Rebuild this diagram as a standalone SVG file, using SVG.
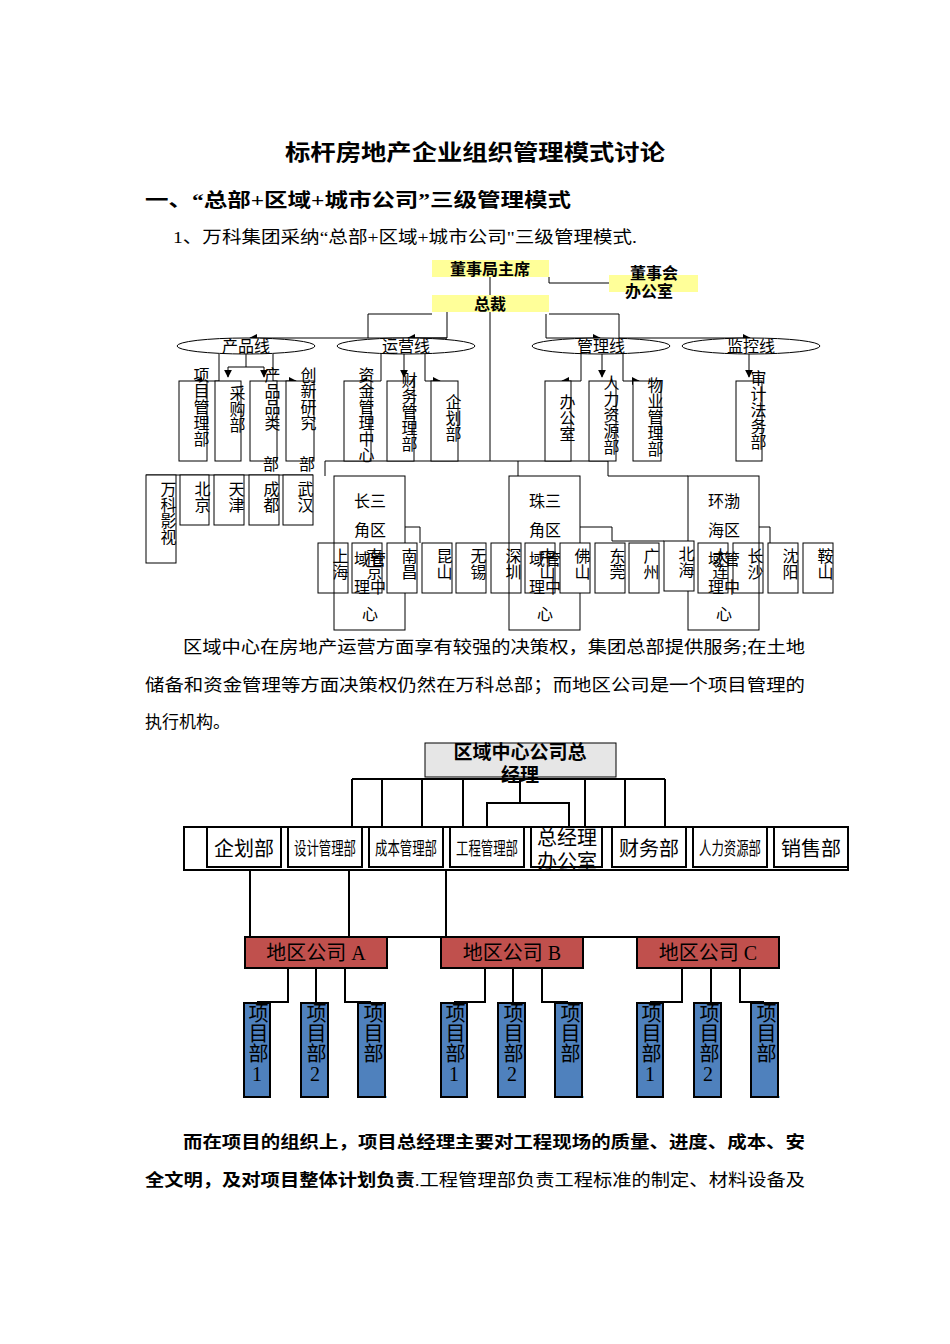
<svg xmlns="http://www.w3.org/2000/svg" width="950" height="1344" viewBox="0 0 950 1344">
<defs>
<marker id="ar" viewBox="0 0 10 10" refX="9" refY="5" markerWidth="8" markerHeight="8" orient="auto"><path d="M0,0L10,5L0,10z" fill="#000"/></marker>
</defs>
<style>
text{font-family:"Liberation Serif","Noto Sans CJK SC",serif;fill:#000}
.t{font-size:22px;font-weight:bold}
.h{font-size:19px;font-weight:bold}
.p{font-size:17px}
.c{font-size:16px;text-anchor:middle}
.v{font-size:16px;writing-mode:tb;text-orientation:upright}
.y{fill:#ffff99}
.b{fill:#fff;stroke:#000;stroke-width:1}
.l{fill:none;stroke:#000;stroke-width:1}
.l2{fill:none;stroke:#000;stroke-width:2}
.el{fill:#fff;stroke:#000;stroke-width:1}
.yb{font-size:16px;font-weight:bold;text-anchor:middle;font-family:"Liberation Sans","Noto Sans CJK SC",sans-serif}
.g{fill:#e6e6e6;stroke:#000;stroke-width:1}
.d{fill:#fff;stroke:#000;stroke-width:2}
.r{fill:#c0504d;stroke:#000;stroke-width:2}
.bl{fill:#4f81bd;stroke:#000;stroke-width:2}
.m{font-size:20px;text-anchor:middle}
.m2{font-size:18px;text-anchor:middle}
.pv{font-size:20px;writing-mode:tb;text-orientation:upright}
</style>
<rect width="950" height="1344" fill="#fff"/>
<text class="t" x="285" y="160" textLength="380" lengthAdjust="spacingAndGlyphs">标杆房地产企业组织管理模式讨论</text>
<text class="h" x="145" y="207" textLength="426" lengthAdjust="spacingAndGlyphs">一、“总部+区域+城市公司”三级管理模式</text>
<text class="p" x="173" y="243" textLength="464" lengthAdjust="spacingAndGlyphs">1、万科集团采纳“总部+区域+城市公司"三级管理模式.</text>

<g id="connectors1">
<polyline class="l" points="549,277 549,283 609,283"/>
<line class="l" x1="490" y1="277" x2="490" y2="461"/>
<polyline class="l" points="432,314 368,314 368,338"/>
<polyline class="l" points="447,312 447,338 250,338" marker-end="url(#ar)"/>
<line class="l" x1="447" y1="338" x2="408" y2="338" marker-end="url(#ar)"/>
<polyline class="l" points="549,314 619,314 619,338 750,338" marker-end="url(#ar)"/>
<polyline class="l" points="546,314 546,338 600,338" marker-end="url(#ar)"/>
<polyline class="l" points="219,354 219,381 195,381" marker-end="url(#ar)"/>
<polyline class="l" points="246,354 246,367 228,367 228,377" marker-end="url(#ar)"/>
<polyline class="l" points="246,367 264,367 264,377" marker-end="url(#ar)"/>
<polyline class="l" points="273,354 273,381 296,381" marker-end="url(#ar)"/>
<polyline class="l" points="381,354 381,381 360,381" marker-end="url(#ar)"/>
<polyline class="l" points="404,354 404,377" marker-end="url(#ar)"/>
<polyline class="l" points="425,354 425,381 440,381" marker-end="url(#ar)"/>
<polyline class="l" points="581,354 581,381 562,381" marker-end="url(#ar)"/>
<polyline class="l" points="602,354 602,377" marker-end="url(#ar)"/>
<polyline class="l" points="623,354 623,381 639,381" marker-end="url(#ar)"/>
<polyline class="l" points="749,354 749,377" marker-end="url(#ar)"/>
<polyline class="l" points="325,476 325,461 608,461 608,476 688,476"/>
<line class="l" x1="518" y1="461" x2="518" y2="476"/>
<line class="l" x1="146" y1="475" x2="313" y2="475"/>
<polyline class="l" points="352,543 352,527 420,527 420,543"/>
<polyline class="l" points="386,527 386,543"/>
<polyline class="l" points="525,543 525,527 612,527 612,541 664,541"/>
<polyline class="l" points="577,527 577,543"/>
<polyline class="l" points="698,543 698,527 770,527 770,543"/>
<polyline class="l" points="753,527 753,543"/>
</g>

<g id="n-chair"><rect class="y" x="432" y="260" width="117" height="17"/><text class="yb" x="490" y="275">董事局主席</text></g>
<g id="n-boardoffice"><rect class="y" x="609" y="275" width="89" height="17"/><text class="yb" x="654" y="279">董事会</text><text class="yb" x="649" y="297">办公室</text></g>
<g id="n-ceo"><rect class="y" x="432" y="295" width="117" height="17"/><text class="yb" x="490" y="310">总裁</text></g>

<g id="n-l1"><ellipse class="el" cx="246" cy="346" rx="69" ry="8"/><text class="c" x="246" y="352">产品线</text></g>
<g id="n-l2"><ellipse class="el" cx="406" cy="346" rx="69" ry="8"/><text class="c" x="406" y="352">运营线</text></g>
<g id="n-l3"><ellipse class="el" cx="601" cy="346" rx="69" ry="8"/><text class="c" x="601" y="352">管理线</text></g>
<g id="n-l4"><ellipse class="el" cx="751" cy="346" rx="69" ry="8"/><text class="c" x="751" y="352">监控线</text></g>

<g id="n-d1"><rect class="b" x="179" y="381" width="28" height="80"/><text class="v" x="200" y="367">项目管理部</text></g>
<g id="n-d2"><rect class="b" x="215" y="381" width="26" height="80"/><text class="v" x="236" y="385">采购部</text></g>
<g id="n-d3"><rect class="b" x="250" y="381" width="27" height="80"/><text class="v" x="271" y="367">产品品类</text><text class="c" x="271" y="470">部</text></g>
<g id="n-d4"><rect class="b" x="286" y="381" width="28" height="80"/><text class="v" x="307" y="367">创新研究</text><text class="c" x="307" y="470">部</text></g>
<g id="n-d5"><rect class="b" x="344" y="381" width="27" height="80"/><text class="v" x="365" y="367">资金管理中心</text></g>
<g id="n-d6"><rect class="b" x="387" y="381" width="27" height="80"/><text class="v" x="408" y="372">财务管理部</text></g>
<g id="n-d7"><rect class="b" x="431" y="381" width="27" height="80"/><text class="v" x="452" y="394">企划部</text></g>
<g id="n-d8"><rect class="b" x="545" y="381" width="26" height="80"/><text class="v" x="566" y="394">办公室</text></g>
<g id="n-d9"><rect class="b" x="589" y="381" width="27" height="80"/><text class="v" x="610" y="375">人力资源部</text></g>
<g id="n-d10"><rect class="b" x="633" y="381" width="28" height="80"/><text class="v" x="654" y="377">物业管理部</text></g>
<g id="n-d11"><rect class="b" x="736" y="381" width="26" height="80"/><text class="v" x="757" y="370">审计法务部</text></g>

<g id="n-vanke"><rect class="b" x="146" y="475" width="30" height="88"/><text class="v" x="167" y="481">万科影视</text></g>
<g id="n-bj"><rect class="b" x="180" y="475" width="29" height="50"/><text class="v" x="201" y="481">北京</text></g>
<g id="n-tj"><rect class="b" x="214" y="475" width="30" height="50"/><text class="v" x="235" y="481">天津</text></g>
<g id="n-cd"><rect class="b" x="249" y="475" width="30" height="50"/><text class="v" x="270" y="481">成都</text></g>
<g id="n-wh"><rect class="b" x="283" y="475" width="30" height="50"/><text class="v" x="304" y="481">武汉</text></g>

<g id="n-csj"><rect class="b" x="334" y="476" width="71" height="154"/><text class="c" x="370" y="507">长三</text><text class="c" x="370" y="536">角区</text><text class="c" x="370" y="565">域管</text><text class="c" x="370" y="593">理中</text><text class="c" x="370" y="620">心</text></g>
<g id="n-zsj"><rect class="b" x="509" y="476" width="71" height="154"/><text class="c" x="545" y="507">珠三</text><text class="c" x="545" y="536">角区</text><text class="c" x="545" y="565">域管</text><text class="c" x="545" y="593">理中</text><text class="c" x="545" y="620">心</text></g>
<g id="n-hbh"><rect class="b" x="688" y="476" width="71" height="154"/><text class="c" x="724" y="507">环渤</text><text class="c" x="724" y="536">海区</text><text class="c" x="724" y="565">域管</text><text class="c" x="724" y="593">理中</text><text class="c" x="724" y="620">心</text></g>

<g id="n-sh"><rect class="b" x="318" y="543" width="30" height="50" fill-opacity="0"/><text class="v" x="339" y="548">上海</text></g>
<g id="n-nj"><rect class="b" x="352" y="543" width="30" height="50" fill-opacity="0"/><text class="v" x="373" y="548">南京</text></g>
<g id="n-nc"><rect class="b" x="387" y="543" width="30" height="50"/><text class="v" x="408" y="548">南昌</text></g>
<g id="n-ks"><rect class="b" x="422" y="543" width="30" height="50"/><text class="v" x="443" y="548">昆山</text></g>
<g id="n-wx"><rect class="b" x="456" y="543" width="30" height="50"/><text class="v" x="477" y="548">无锡</text></g>
<g id="n-sz"><rect class="b" x="491" y="543" width="30" height="50" fill-opacity="0"/><text class="v" x="512" y="548">深圳</text></g>
<g id="n-zs"><rect class="b" x="525" y="543" width="30" height="50" fill-opacity="0"/><text class="v" x="546" y="548">中山</text></g>
<g id="n-fs"><rect class="b" x="560" y="543" width="30" height="50"/><text class="v" x="581" y="548">佛山</text></g>
<g id="n-dg"><rect class="b" x="595" y="543" width="30" height="50"/><text class="v" x="616" y="548">东莞</text></g>
<g id="n-gz"><rect class="b" x="629" y="543" width="30" height="50"/><text class="v" x="650" y="548">广州</text></g>
<g id="n-bh"><rect class="b" x="664" y="541" width="30" height="50"/><text class="v" x="685" y="546">北海</text></g>
<g id="n-dl"><rect class="b" x="698" y="543" width="30" height="50" fill-opacity="0"/><text class="v" x="719" y="548">大连</text></g>
<g id="n-cs"><rect class="b" x="733" y="543" width="30" height="50" fill-opacity="0"/><text class="v" x="754" y="548">长沙</text></g>
<g id="n-sy"><rect class="b" x="768" y="543" width="30" height="50"/><text class="v" x="789" y="548">沈阳</text></g>
<g id="n-as"><rect class="b" x="803" y="543" width="30" height="50"/><text class="v" x="824" y="548">鞍山</text></g>

<text class="p" x="183" y="653" textLength="622" lengthAdjust="spacingAndGlyphs">区域中心在房地产运营方面享有较强的决策权，集团总部提供服务;在土地</text>
<text class="p" x="145" y="691" textLength="660" lengthAdjust="spacingAndGlyphs">储备和资金管理等方面决策权仍然在万科总部；而地区公司是一个项目管理的</text>
<text class="p" x="145" y="728" textLength="85" lengthAdjust="spacingAndGlyphs">执行机构。</text>

<g id="connectors2">
<line class="l2" x1="352" y1="779" x2="665" y2="779"/>
<line class="l2" x1="352" y1="779" x2="352" y2="827"/>
<line class="l2" x1="382" y1="779" x2="382" y2="827"/>
<line class="l2" x1="422" y1="779" x2="422" y2="827"/>
<line class="l2" x1="463" y1="779" x2="463" y2="827"/>
<line class="l2" x1="585" y1="779" x2="585" y2="827"/>
<line class="l2" x1="625" y1="779" x2="625" y2="827"/>
<line class="l2" x1="665" y1="779" x2="665" y2="827"/>
<polyline class="l2" points="487,827 487,803 569,803 569,827"/>
<line class="l2" x1="520" y1="779" x2="520" y2="803"/>
<line class="l2" x1="250" y1="870" x2="250" y2="937"/>
<line class="l2" x1="349" y1="870" x2="349" y2="937"/>
<line class="l2" x1="446" y1="870" x2="446" y2="937"/>
<line class="l2" x1="245" y1="937" x2="779" y2="937"/>
<polyline class="l2" points="288,968 288,1002 257,1002"/>
<line class="l2" x1="316" y1="968" x2="316" y2="1003"/>
<polyline class="l2" points="345,968 345,1002 371,1002"/>
<polyline class="l2" points="485,968 485,1002 454,1002"/>
<line class="l2" x1="513" y1="968" x2="513" y2="1003"/>
<polyline class="l2" points="542,968 542,1002 568,1002"/>
<polyline class="l2" points="682,968 682,1002 650,1002"/>
<line class="l2" x1="711" y1="968" x2="711" y2="1003"/>
<polyline class="l2" points="740,968 740,1002 764,1002"/>
</g>

<g id="n-gm"><rect class="g" x="425" y="743" width="191" height="34"/><text class="yb" style="font-size:19px" x="520" y="759">区域中心公司总</text><text class="yb" style="font-size:19px" x="520" y="782">经理</text></g>
<rect class="d" x="184" y="827" width="664" height="43"/>
<g id="n-r1"><rect class="d" x="207" y="827" width="74" height="40"/><text class="m" x="244" y="856">企划部</text></g>
<g id="n-r2"><rect class="d" x="288" y="827" width="74" height="40"/><text class="m2" x="325" y="855" textLength="62" lengthAdjust="spacingAndGlyphs">设计管理部</text></g>
<g id="n-r3"><rect class="d" x="369" y="827" width="74" height="40"/><text class="m2" x="406" y="855" textLength="62" lengthAdjust="spacingAndGlyphs">成本管理部</text></g>
<g id="n-r4"><rect class="d" x="450" y="827" width="74" height="40"/><text class="m2" x="487" y="855" textLength="62" lengthAdjust="spacingAndGlyphs">工程管理部</text></g>
<g id="n-r5"><rect class="d" x="531" y="827" width="71" height="40"/><text class="m" x="567" y="845">总经理</text><text class="m" x="567" y="869">办公室</text></g>
<g id="n-r6"><rect class="d" x="612" y="827" width="74" height="40"/><text class="m" x="649" y="856">财务部</text></g>
<g id="n-r7"><rect class="d" x="693" y="827" width="74" height="40"/><text class="m2" x="730" y="855" textLength="62" lengthAdjust="spacingAndGlyphs">人力资源部</text></g>
<g id="n-r8"><rect class="d" x="774" y="827" width="74" height="40"/><text class="m" x="811" y="856">销售部</text></g>

<g id="n-A"><rect class="r" x="245" y="937" width="142" height="31"/><text class="m" x="316" y="960">地区公司 A</text></g>
<g id="n-B"><rect class="r" x="441" y="937" width="142" height="31"/><text class="m" x="512" y="960">地区公司 B</text></g>
<g id="n-C"><rect class="r" x="637" y="937" width="142" height="31"/><text class="m" x="708" y="960">地区公司 C</text></g>

<g id="n-A1"><rect class="bl" x="244" y="1003" width="26" height="94"/><text class="pv" x="257" y="1003">项目部1</text></g>
<g id="n-A2"><rect class="bl" x="301" y="1003" width="27" height="94"/><text class="pv" x="315" y="1003">项目部2</text></g>
<g id="n-A3"><rect class="bl" x="358" y="1003" width="27" height="94"/><text class="pv" x="372" y="1003">项目部</text><text class="c" x="372" y="1098">……</text></g>
<g id="n-B1"><rect class="bl" x="441" y="1003" width="26" height="94"/><text class="pv" x="454" y="1003">项目部1</text></g>
<g id="n-B2"><rect class="bl" x="498" y="1003" width="27" height="94"/><text class="pv" x="512" y="1003">项目部2</text></g>
<g id="n-B3"><rect class="bl" x="555" y="1003" width="27" height="94"/><text class="pv" x="569" y="1003">项目部</text><text class="c" x="569" y="1098">……</text></g>
<g id="n-C1"><rect class="bl" x="637" y="1003" width="26" height="94"/><text class="pv" x="650" y="1003">项目部1</text></g>
<g id="n-C2"><rect class="bl" x="694" y="1003" width="27" height="94"/><text class="pv" x="708" y="1003">项目部2</text></g>
<g id="n-C3"><rect class="bl" x="751" y="1003" width="27" height="94"/><text class="pv" x="765" y="1003">项目部</text><text class="c" x="765" y="1098">……</text></g>

<text class="p" x="183" y="1148" font-weight="bold" textLength="622" lengthAdjust="spacingAndGlyphs">而在项目的组织上，项目总经理主要对工程现场的质量、进度、成本、安</text>
<text class="p" x="145" y="1186" textLength="660" lengthAdjust="spacingAndGlyphs"><tspan font-weight="bold">全文明，及对项目整体计划负责</tspan>.工程管理部负责工程标准的制定、材料设备及</text>
</svg>
